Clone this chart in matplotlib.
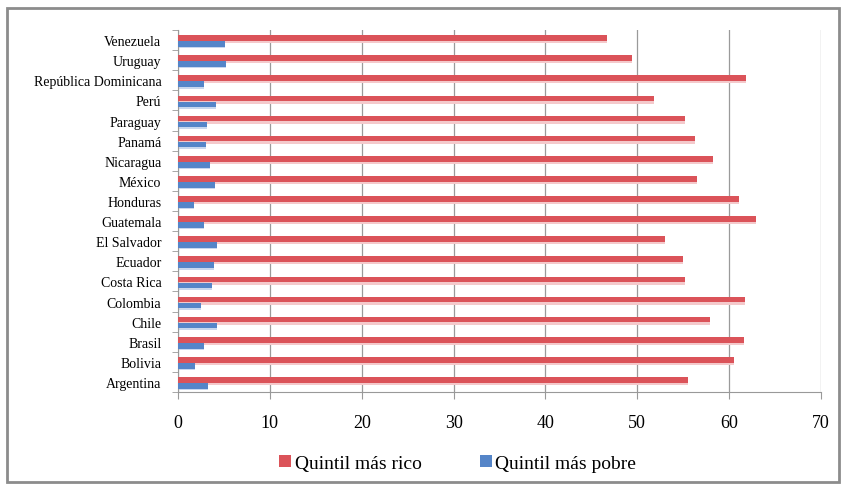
import matplotlib.pyplot as plt
import numpy as np
from matplotlib.patches import Rectangle

# Participación en el ingreso por quintil (%)
paises = ["Argentina", "Bolivia", "Brasil", "Chile", "Colombia", "Costa Rica",
          "Ecuador", "El Salvador", "Guatemala", "Honduras", "México",
          "Nicaragua", "Panamá", "Paraguay", "Perú", "República Dominicana",
          "Uruguay", "Venezuela"]
quintil_rico = [55.5, 60.5, 61.6, 57.9, 61.7, 55.2, 55.0, 53.0, 62.9, 61.1,
                56.5, 58.2, 56.3, 55.2, 51.8, 61.8, 49.4, 46.7]
quintil_pobre = [3.3, 1.8, 2.8, 4.2, 2.5, 3.7, 3.9, 4.3, 2.8, 1.7,
                 4.0, 3.5, 3.1, 3.2, 4.1, 2.8, 5.2, 5.1]

rojo = "#DB5359"
azul = "#5585C8"
serif = ["Liberation Serif", "DejaVu Serif"]

fig = plt.figure(figsize=(8.5, 4.89), dpi=100)
ax = fig.add_axes([178 / 850, 96 / 489, 643 / 850, 362 / 489])

y = np.arange(len(paises))
h = 0.28
# sombra suave debajo de cada barra
ax.barh(y + 0.1 - 0.12, quintil_rico, height=h, color="#F4C9CB", zorder=2)
ax.barh(y + 0.1, quintil_rico, height=h, color=rojo, zorder=3,
        label="Quintil más rico")
ax.barh(y - 0.2 - 0.1, quintil_pobre, height=h * 0.8, color="#C9D7EE", zorder=2)
ax.barh(y - 0.2, quintil_pobre, height=h, color=azul, zorder=3,
        label="Quintil más pobre")

ax.set_xlim(0, 70)
ax.set_ylim(-0.5, len(paises) - 0.5)
ax.set_xticks(range(0, 71, 10))
ax.set_yticks(y)
ax.set_yticklabels(paises, fontfamily=serif, fontsize=10)
ax.set_yticks(np.arange(-0.5, len(paises), 1), minor=True)
ax.tick_params(axis="y", which="major", length=0, pad=12)
ax.tick_params(axis="y", which="minor", length=4, color="#999999")
ax.tick_params(axis="x", length=5, color="#999999", labelsize=13, pad=11)
for lab in ax.get_xticklabels():
    lab.set_fontfamily(serif)

ax.grid(axis="x", color="#9A9A9A", linewidth=0.9, zorder=0)
for lado in ["top", "right"]:
    ax.spines[lado].set_visible(False)
ax.spines["left"].set_color("#999999")
ax.spines["bottom"].set_color("#999999")

ax.legend(loc="upper center", bbox_to_anchor=(0.435, -0.125), ncol=2,
          frameon=False, prop={"family": serif, "size": 14},
          handlelength=0.6, handleheight=0.6, handletextpad=0.2,
          columnspacing=3.0)

# marco exterior del gráfico
fig.add_artist(Rectangle((7 / 850, 6 / 489), 832 / 850, 474 / 489,
                         transform=fig.transFigure, fill=False,
                         edgecolor="#8C8C8C", linewidth=2))

fig.savefig("out.png", dpi=100)
